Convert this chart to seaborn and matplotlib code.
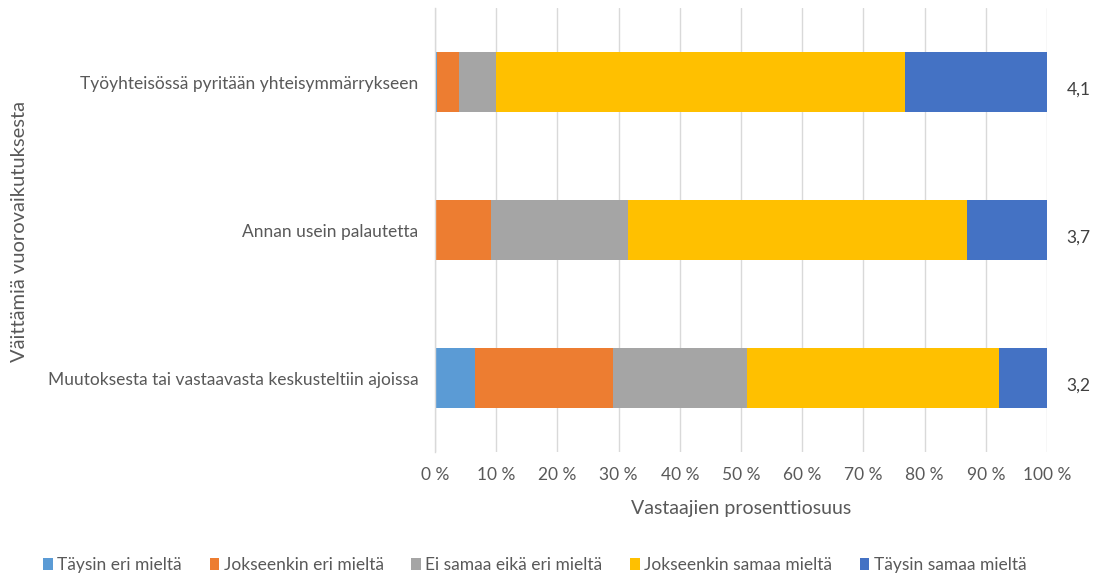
import matplotlib
matplotlib.use("Agg")
import matplotlib.pyplot as plt
import seaborn as sns
import pandas as pd
import numpy as np
from matplotlib.patches import Patch

categories = [
    "Työyhteisössä pyritään yhteisymmärrykseen",
    "Annan usein palautetta",
    "Muutoksesta tai vastaavasta keskusteltiin ajoissa",
]
series_names = [
    "Täysin eri mieltä",
    "Jokseenkin eri mieltä",
    "Ei samaa eikä eri mieltä",
    "Jokseenkin samaa mieltä",
    "Täysin samaa mieltä",
]
taysin_eri = [0.3, 0.0, 6.6]
jokseenkin_eri = [3.7, 9.2, 22.5]
ei_samaa_eika_eri = [6.0, 22.3, 21.8]
jokseenkin_samaa = [66.8, 55.4, 41.3]
taysin_samaa = [23.2, 13.1, 7.8]
averages = ["4,1", "3,7", "3,2"]
xticklabels = ["0 %", "10 %", "20 %", "30 %", "40 %", "50 %", "60 %", "70 %", "80 %", "90 %", "100 %"]

colors = ["#5B9BD5", "#ED7D31", "#A5A5A5", "#FFC000", "#4472C4"]
text_color = "#595959"

sns.set_theme(style="white")
plt.rcParams['font.family'] = ['Lato', 'DejaVu Sans']

values = [taysin_eri, jokseenkin_eri, ei_samaa_eika_eri, jokseenkin_samaa, taysin_samaa]
cum = np.cumsum(np.array(values), axis=0)

fig = plt.figure(figsize=(11.03, 5.77), dpi=100)
ax = fig.add_axes([435/1103, 1 - 452/577, (1047-435)/1103, (452-8.4)/577])

for i in range(len(series_names) - 1, -1, -1):
    df = pd.DataFrame({"cat": categories, "val": cum[i]})
    sns.barplot(data=df, x="val", y="cat", orient="h", color=colors[i],
                width=0.405, saturation=1, ax=ax, zorder=2, linewidth=0)

ax.set_xlim(0, 100)
ax.set_ylim(2.5, -0.5)
ax.set_xticks(np.arange(0, 101, 10))
ax.set_xticklabels(xticklabels, color=text_color, fontsize=12.5)
ax.tick_params(axis='x', length=0, pad=11)
ax.xaxis.grid(True, color="#D9D9D9", linewidth=1, zorder=0)
ax.set_axisbelow(True)
for s in ["top", "right", "bottom"]:
    ax.spines[s].set_visible(False)
ax.spines["left"].set_color("#D9D9D9")
ax.spines["left"].set_linewidth(1)

ax.set_yticks([0, 1, 2])
ax.set_yticklabels(categories, color=text_color, fontsize=12.5)
ax.tick_params(axis='y', which='major', length=0, pad=12)
ax.set_yticks([-0.5, 0.5, 1.5, 2.5], minor=True)
ax.tick_params(axis='y', which='minor', length=5, color="#D9D9D9", width=1)

ax.set_xlabel("Vastaajien prosenttiosuus", color=text_color, fontsize=14, labelpad=12)
ax.set_ylabel("")
fig.text(20/1103, 1 - 232/577, "Väittämiä vuorovaikutuksesta", rotation=90,
         ha="center", va="center", color=text_color, fontsize=14.5)

for i, a in enumerate(averages):
    ax.text(103.2, i + 0.05, a, ha="left", va="center", color="#404040", fontsize=12.5,
            clip_on=False)

handles = [Patch(facecolor=c, edgecolor='none') for c in colors]
fig.legend(handles, series_names, loc="center", bbox_to_anchor=(0.485, 1 - 565/577),
           ncol=5, frameon=False, fontsize=12.5, handlelength=0.55, handleheight=0.7,
           handletextpad=0.25, columnspacing=1.6, labelcolor=text_color)

fig.savefig("out.png", dpi=100)
